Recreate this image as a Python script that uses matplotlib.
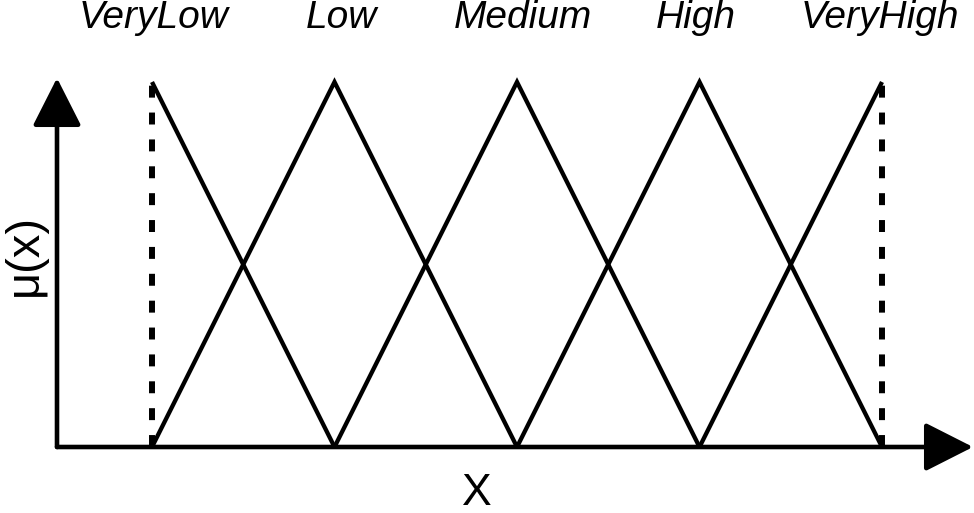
import matplotlib.pyplot as plt
import numpy as np

# fuzzy sets: peak positions and names
centres = [0, 1, 2, 3, 4]
names = ['VeryLow', 'Low', 'Medium', 'High', 'VeryHigh']
label_shift = [0.01, 0.04, 0.03, -0.02, -0.01]

W, H = 974, 513
px = 182.5   # pixels per x unit
py = 365.0   # pixels per membership unit
x0, y0 = 152, 447   # pixel of (0, 0)

fig = plt.figure(figsize=(W / 100, H / 100), dpi=100)
ax = fig.add_axes([0, 0, 1, 1])
ax.set_xlim(-x0 / px, (W - x0) / px)
ax.set_ylim((y0 - H) / py, y0 / py)
ax.axis('off')

lw = 3.1
# triangular membership functions
for i, c in enumerate(centres):
    xs = [c - 1, c, c + 1]
    ys = [0, 1, 0]
    if i == 0:
        xs, ys = xs[1:], ys[1:]
    if i == len(centres) - 1:
        xs, ys = xs[:2], ys[:2]
    ax.plot(xs, ys, color='black', lw=lw, solid_joinstyle='miter',
            solid_capstyle='butt')

# dashed borders of the outer shoulders
for c in (centres[0], centres[-1]):
    ax.plot([c, c], [0, 1], color='black', lw=4.3, dashes=(2.0, 2.5),
            dash_capstyle='butt')

# axes arrows
ax_x = (57 - x0) / px
arrow = dict(arrowstyle='-|>,head_length=0.75,head_width=0.38', lw=3.3,
             color='black', mutation_scale=40, shrinkA=0, shrinkB=0)
ax.annotate('', xy=((973 - x0) / px, 0), xytext=(ax_x, 0), arrowprops=arrow,
            annotation_clip=False)
ax.annotate('', xy=(ax_x, (y0 - 78) / py), xytext=(ax_x, 0), arrowprops=arrow,
            annotation_clip=False)

font = ['Liberation Sans', 'DejaVu Sans']
for c, name, s in zip(centres, names, label_shift):
    ax.text(c + s, (y0 - 28) / py, name, ha='center', va='baseline',
            fontsize=28, style='italic', family=font)

ax.text((477 - x0) / px, (y0 - 505) / py, 'X', ha='center', va='baseline',
        fontsize=32, family=font)
ax.text((37 - x0) / px, (y0 - 255) / py, 'μ(x)', ha='center', va='baseline',
        rotation=90, rotation_mode='anchor', fontsize=34, family=font)

plt.savefig('out.png', dpi=100)
